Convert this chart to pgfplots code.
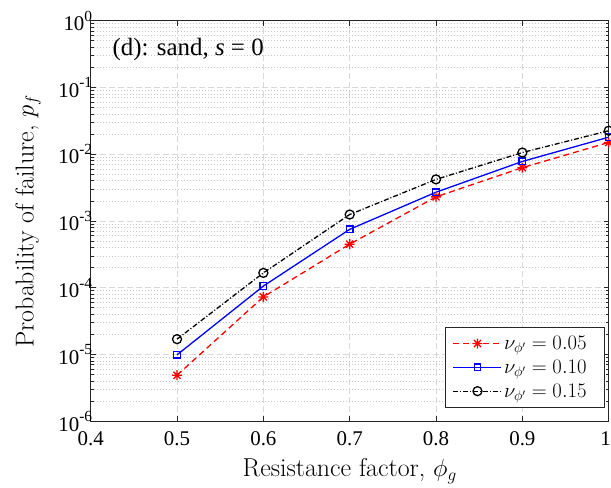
\documentclass[border=0pt]{standalone}
\usepackage{pgfplots}
\pgfplotsset{compat=1.18}
\usepackage{fontspec}
\newfontfamily\tnr{Liberation Serif}
\usetikzlibrary{plotmarks}

\pgfdeclareplotmark{mstar}{%
  \pgfpathmoveto{\pgfqpoint{-\pgfplotmarksize}{0pt}}\pgfpathlineto{\pgfqpoint{\pgfplotmarksize}{0pt}}%
  \pgfpathmoveto{\pgfqpoint{0pt}{-\pgfplotmarksize}}\pgfpathlineto{\pgfqpoint{0pt}{\pgfplotmarksize}}%
  \pgfpathmoveto{\pgfqpoint{-0.707\pgfplotmarksize}{-0.707\pgfplotmarksize}}\pgfpathlineto{\pgfqpoint{0.707\pgfplotmarksize}{0.707\pgfplotmarksize}}%
  \pgfpathmoveto{\pgfqpoint{-0.707\pgfplotmarksize}{0.707\pgfplotmarksize}}\pgfpathlineto{\pgfqpoint{0.707\pgfplotmarksize}{-0.707\pgfplotmarksize}}%
  \pgfusepathqstroke}

\newcommand{\tsup}[1]{10\raisebox{0.45em}{\fontsize{15.5}{16}\selectfont #1}}

\begin{document}
\begin{tikzpicture}
\begin{axis}[
  scale only axis, width=518bp, height=400.6bp,
  at={(0,0)}, anchor=south west,
  xmin=0.4, xmax=1, ymode=log, ymin=1e-6, ymax=1,
  xtick={0.4,0.5,0.6,0.7,0.8,0.9,1},
  xticklabels={0.4,0.5,0.6,0.7,0.8,0.9,\hspace*{-6bp}1},
  ytick={1e-6,1e-5,1e-4,1e-3,1e-2,1e-1,1},
  yticklabels={\tsup{-6},\tsup{-5},\tsup{-4},\tsup{-3},\tsup{-2},\tsup{-1},\tsup{0}},
  minor ytick={2e-6,3e-6,4e-6,5e-6,6e-6,7e-6,8e-6,9e-6,
               2e-5,3e-5,4e-5,5e-5,6e-5,7e-5,8e-5,9e-5,
               2e-4,3e-4,4e-4,5e-4,6e-4,7e-4,8e-4,9e-4,
               2e-3,3e-3,4e-3,5e-3,6e-3,7e-3,8e-3,9e-3,
               2e-2,3e-2,4e-2,5e-2,6e-2,7e-2,8e-2,9e-2,
               2e-1,3e-1,4e-1,5e-1,6e-1,7e-1,8e-1,9e-1},
  tick align=inside, xtick pos=both, ytick pos=both,
  major tick length=5bp, minor tick length=3bp,
  every tick/.style={color=black!85, line width=0.8bp},
  axis line style={black!85, line width=0.9bp},
  xmajorgrids, ymajorgrids, yminorgrids,
  major grid style={black!15, dash pattern=on 6bp off 3bp, line width=0.8bp},
  minor grid style={black!22, dash pattern=on 1bp off 2bp, line width=0.8bp},
  ticklabel style={font=\tnr\fontsize{21}{25}\selectfont},
  xticklabel style={yshift=-7bp},
  yticklabel style={xshift=5bp},
  xlabel={Resistance factor, $\phi_g$},
  ylabel={Probability of failure, $p_f$},
  label style={font=\fontsize{26}{30}\selectfont},
  xlabel style={at={(axis description cs:0.5,0)}, anchor=center, yshift=-50bp},
  ylabel style={at={(axis description cs:0,0.5)}, anchor=center, yshift=62.7bp},
  legend style={at={(axis description cs:0.9929,0.0332)}, anchor=south east,
    draw=black!85, line width=0.9bp, fill=white,
    font=\fontsize{20.5}{24}\selectfont, inner xsep=7bp, inner ysep=7bp,
    row sep=5bp, cells={anchor=west}},
  legend image code/.code={\draw[mark repeat=2,mark phase=2] plot coordinates {(0bp,0bp) (24bp,0bp) (48bp,0bp)};},
  clip=false,
]
\addplot[red, line width=1.3bp, dash pattern=on 6bp off 4bp, mark=mstar, mark size=5bp, mark options={solid}]
  coordinates {(0.5,4.9e-6) (0.6,7.3e-5) (0.7,4.5e-4) (0.8,2.3e-3) (0.9,6.3e-3) (1.0,1.5e-2)};
\addlegendentry{$\nu_{\phi'}=0.05$\hspace*{9bp}}
\addplot[blue, line width=1.3bp, mark=square, mark size=3.3bp, mark options={solid}]
  coordinates {(0.5,9.9e-6) (0.6,1.06e-4) (0.7,7.5e-4) (0.8,2.7e-3) (0.9,7.8e-3) (1.0,1.8e-2)};
\addlegendentry{$\nu_{\phi'}=0.10$\hspace*{9bp}}
\addplot[black, line width=1.3bp, dash pattern=on 5bp off 2bp on 1bp off 2bp, mark=o, mark size=4.5bp, mark options={solid}]
  coordinates {(0.5,1.7e-5) (0.6,1.67e-4) (0.7,1.25e-3) (0.8,4.2e-3) (0.9,1.06e-2) (1.0,2.25e-2)};
\addlegendentry{$\nu_{\phi'}=0.15$\hspace*{9bp}}
\node[anchor=west, font=\tnr\fontsize{25}{29}\selectfont, inner sep=0pt, xshift=21.8bp, yshift=-29.3bp]
  at (axis description cs:0,1) {(d): sand, \textit{s} = 0};
\end{axis}
\pgfresetboundingbox
\useasboundingbox (-90.7bp,-66.7bp) rectangle (520.3bp,421.3bp);
\end{tikzpicture}
\end{document}
